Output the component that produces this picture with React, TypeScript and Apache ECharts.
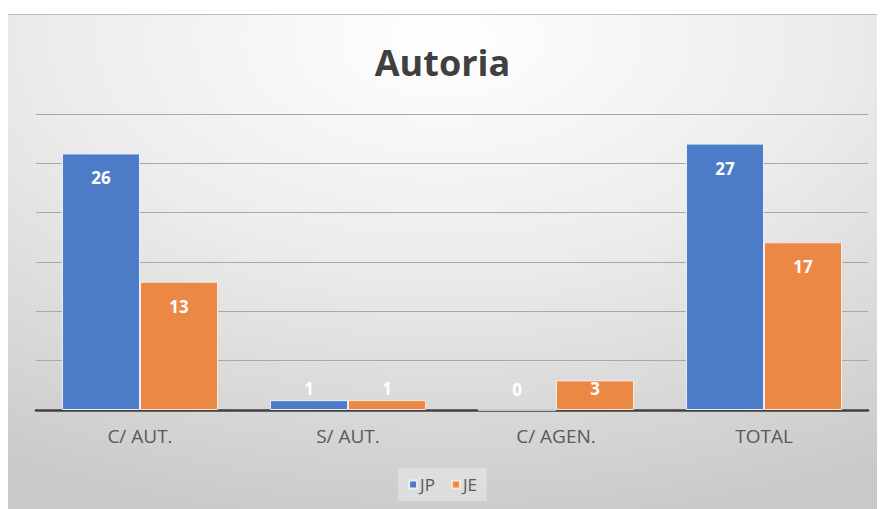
import React, { useEffect, useRef } from "react";
import * as echarts from "echarts";

const categories = ["C/ AUT.", "S/ AUT.", "C/ AGEN.", "TOTAL"];
const jpValues = [26, 1, 0, 27];
const jeValues = [13, 1, 3, 17];
const seriesNames = ["JP", "JE"];

const SMALL = 5;

function buildData(values: number[]) {
  return values.map((v) =>
    v < SMALL
      ? { value: v, label: { position: "insideBottom", distance: 13 } }
      : { value: v }
  );
}

export default function App() {
  const ref = useRef<HTMLDivElement>(null);
  useEffect(() => {
    if (!ref.current) return;
    const chart = echarts.init(ref.current, null, { renderer: "svg" });
    const font = "'Open Sans', 'Liberation Sans', sans-serif";
    const label = {
      show: true,
      position: "insideTop",
      distance: 16,
      color: "#ffffff",
      fontWeight: "bold",
      fontSize: 17,
      fontFamily: font,
    };
    chart.setOption({
      animation: false,
      backgroundColor: {
        type: "radial",
        x: 0.5,
        y: 0.05,
        r: 1.0,
        colorStops: [
          { offset: 0, color: "#ffffff" },
          { offset: 0.45, color: "#ececec" },
          { offset: 1, color: "#c9c9c9" },
        ],
      },
      title: {
        text: "Autoria",
        left: "center",
        top: 24,
        textStyle: { fontSize: 36, fontWeight: "bold", color: "#404040", fontFamily: font },
      },
      legend: {
        data: seriesNames,
        bottom: 8,
        left: "center",
        itemWidth: 8,
        itemHeight: 8,
        itemGap: 16,
        icon: "rect",
        textStyle: { fontSize: 17, color: "#595959", fontFamily: font, padding: [0, 0, 0, -2] },
        backgroundColor: "rgba(255,255,255,0.3)",
        padding: [8, 10],
      },
      grid: { left: 28, right: 9, top: 99, bottom: 99, containLabel: false },
      xAxis: {
        type: "category",
        data: categories,
        axisLine: { lineStyle: { color: "#404040", width: 2.5 } },
        axisTick: { show: false },
        axisLabel: { fontSize: 19, color: "#595959", margin: 16, fontFamily: font },
      },
      yAxis: {
        type: "value",
        min: 0,
        max: 30,
        interval: 5,
        axisLabel: { show: false },
        axisLine: { show: false },
        axisTick: { show: false },
        splitLine: { lineStyle: { color: "#a8a8a8", width: 1.2 } },
      },
      series: [
        {
          name: seriesNames[0],
          type: "bar",
          data: buildData(jpValues),
          barGap: "0%",
          barCategoryGap: "25%",
          itemStyle: { color: "#4c7cc8", borderColor: "#e8eefa", borderWidth: 1 },
          label,
        },
        {
          name: seriesNames[1],
          type: "bar",
          data: buildData(jeValues),
          itemStyle: { color: "#eb8846", borderColor: "#fbe9dc", borderWidth: 1 },
          label,
        },
      ],
    });
    return () => chart.dispose();
  }, []);
  return (
    <div style={{ position: "absolute", left: 0, top: 0, width: 881, height: 509, background: "#ffffff" }}>
      <div
        ref={ref}
        style={{
          position: "absolute",
          left: 8,
          top: 14,
          width: 869,
          height: 495,
          borderTop: "1px solid #bdbdbd",
          boxSizing: "border-box",
        }}
      />
    </div>
  );
}
